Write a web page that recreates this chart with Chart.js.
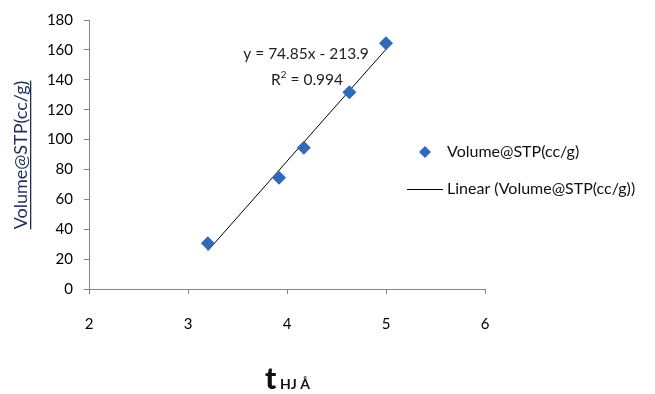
<!DOCTYPE html>
<html>
<head>
<meta charset="utf-8">
<script src="https://cdn.jsdelivr.net/npm/chart.js@4"></script>
<style>
html,body{margin:0;padding:0;background:#fff;}
#wrap{width:655px;height:394px;position:relative;}
</style>
</head>
<body>
<div id="wrap"><canvas id="c" width="655" height="394"></canvas></div>
<script>
const seriesName = 'Volume@STP(cc/g)';
const trendName = 'Linear (Volume@STP(cc/g))';
const tValues = [3.2, 3.92, 4.17, 4.63, 5.0];
const volumeValues = [30.6, 74.5, 94.6, 131.7, 164.4];
const trendX = [3.2, 5.0];
const trendY = [25.6, 160.4];
const equationText = 'y = 74.85x - 213.9';
const r2Text = '0.994';
const xTicks = [2, 3, 4, 5, 6];
const yTicks = [0, 20, 40, 60, 80, 100, 120, 140, 160, 180];

const FONT = "Lato,'Liberation Sans',Arial,sans-serif";
const BLUE = '#2f6bb8';

const overlay = {
  id: 'overlay',
  afterDraw(chart) {
    const ctx = chart.ctx;
    ctx.save();
    // Y axis title, rotated, underlined
    ctx.translate(22, 155);
    ctx.rotate(-Math.PI / 2);
    ctx.font = '18px ' + FONT;
    ctx.fillStyle = '#1f2f5a';
    ctx.textAlign = 'center';
    ctx.textBaseline = 'alphabetic';
    ctx.fillText(seriesName, 0, 5);
    const w = ctx.measureText(seriesName).width;
    ctx.fillRect(-w / 2, 8, w, 1.3);
    ctx.restore();

    // X axis title
    ctx.save();
    ctx.fillStyle = '#111';
    ctx.textBaseline = 'alphabetic';
    ctx.textAlign = 'left';
    ctx.font = '900 30px ' + FONT;
    ctx.fillText('t', 265, 389);
    ctx.font = 'bold 14px ' + FONT;
    ctx.fillText('HJ Å', 280, 389);
    ctx.restore();

    // Equation
    ctx.save();
    ctx.fillStyle = '#222';
    ctx.font = '15.5px ' + FONT;
    ctx.textAlign = 'center';
    ctx.textBaseline = 'middle';
    ctx.fillText(equationText, 306, 54);
    const r1 = 'R', r3 = ' = ' + r2Text;
    const w1 = ctx.measureText(r1).width;
    ctx.font = '10px ' + FONT;
    const w2 = ctx.measureText('2').width;
    ctx.font = '15.5px ' + FONT;
    const w3 = ctx.measureText(r3).width;
    let x0 = 307 - (w1 + w2 + w3) / 2;
    ctx.textAlign = 'left';
    ctx.fillText(r1, x0, 80);
    ctx.font = '10px ' + FONT;
    ctx.fillText('2', x0 + w1, 75);
    ctx.font = '15.5px ' + FONT;
    ctx.fillText(r3, x0 + w1 + w2, 80);
    ctx.restore();

    // Legend
    ctx.save();
    ctx.fillStyle = BLUE;
    ctx.beginPath();
    ctx.moveTo(425, 146); ctx.lineTo(431, 152); ctx.lineTo(425, 158); ctx.lineTo(419, 152); ctx.closePath();
    ctx.fill();
    ctx.strokeStyle = '#000';
    ctx.lineWidth = 1;
    ctx.beginPath();
    ctx.moveTo(407, 189.5); ctx.lineTo(443, 189.5);
    ctx.stroke();
    ctx.fillStyle = '#111';
    ctx.font = '16px ' + FONT;
    ctx.textAlign = 'left';
    ctx.textBaseline = 'middle';
    ctx.fillText(seriesName, 447, 152);
    ctx.fillText(trendName, 447, 189);
    ctx.restore();
  }
};

new Chart(document.getElementById('c'), {
  type: 'scatter',
  data: {
    datasets: [
      {
        label: seriesName,
        data: tValues.map((x, i) => ({ x, y: volumeValues[i] })),
        pointStyle: 'rectRot',
        pointRadius: 7,
        pointHoverRadius: 7,
        backgroundColor: BLUE,
        borderColor: BLUE,
        borderWidth: 0,
        order: 1
      },
      {
        label: trendName,
        type: 'line',
        data: trendX.map((x, i) => ({ x, y: trendY[i] })),
        borderColor: '#000',
        borderWidth: 1,
        pointRadius: 0,
        fill: false,
        order: 2
      }
    ]
  },
  options: {
    responsive: false,
    animation: false,
    devicePixelRatio: 1,
    layout: { padding: { left: 0, top: 20, right: 170, bottom: 0 } },
    plugins: { legend: { display: false }, tooltip: { enabled: false } },
    scales: {
      x: {
        type: 'linear',
        min: 2, max: 6,
        afterBuildTicks(s) { s.ticks = xTicks.map(v => ({ value: v })); },
        afterFit(s) { s.height = 105; },
        grid: { display: true, drawOnChartArea: false, drawTicks: true, tickLength: 5, color: '#868686' },
        border: { color: '#868686', width: 1 },
        ticks: { color: '#000', font: { family: FONT, size: 15 }, padding: 21, maxRotation: 0 }
      },
      y: {
        type: 'linear',
        min: 0, max: 180,
        afterBuildTicks(s) { s.ticks = yTicks.map(v => ({ value: v })); },
        afterFit(s) { s.width = 89; },
        grid: { display: true, drawOnChartArea: false, drawTicks: true, tickLength: 5, color: '#868686' },
        border: { color: '#868686', width: 1 },
        ticks: { color: '#000', font: { family: FONT, size: 15 }, padding: 11 }
      }
    }
  },
  plugins: [overlay]
});
</script>
</body>
</html>
